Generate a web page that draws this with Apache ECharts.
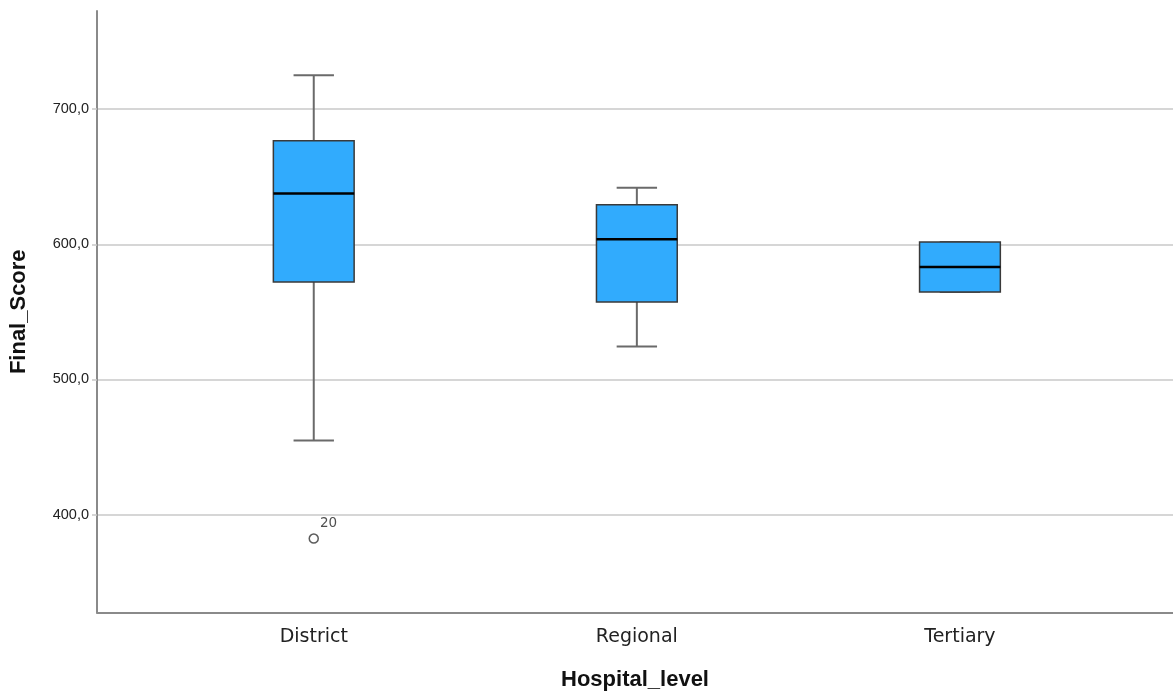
<!DOCTYPE html>
<html>
<head>
<meta charset="utf-8">
<script src="https://cdn.jsdelivr.net/npm/echarts@6/dist/echarts.min.js"></script>
<style>
  html, body { margin: 0; padding: 0; background: #ffffff; }
  #chart { width: 1173px; height: 693px; }
</style>
</head>
<body>
<div id="chart"></div>
<script>
const categories = ['District', 'Regional', 'Tertiary'];
const minValues = [454.9, 524.3, 564.7];
const q1Values = [572.1, 557.3, 564.7];
const medianValues = [637.6, 603.7, 583.2];
const q3Values = [676.6, 629.3, 601.7];
const maxValues = [725.1, 641.9, 601.7];
const outlierPoints = [[0, 382.3]];
const outlierLabels = ['20'];
const yMin = 327.6;
const yMax = 772.6;

const boxData = categories.map((c, i) => [i, minValues[i], q1Values[i], medianValues[i], q3Values[i], maxValues[i]]);

const chart = echarts.init(document.getElementById('chart'), null, { renderer: 'canvas' });

const option = {
  backgroundColor: '#ffffff',
  animation: false,
  grid: [
    { left: 97, right: 0, top: 11, bottom: 80.5, containLabel: false, outerBoundsMode: 'none' },
    { left: 152.2, right: 51.5, top: 11, bottom: 80.5, containLabel: false, outerBoundsMode: 'none' }
  ],
  xAxis: [
    {
      gridIndex: 0, type: 'value', min: 0, max: 1,
      axisLine: { show: true, lineStyle: { color: '#8a8a8a', width: 2 } },
      axisTick: { show: false }, axisLabel: { show: false }, splitLine: { show: false },
      name: 'Hospital_level', nameLocation: 'middle', nameGap: 56,
      nameTextStyle: { fontFamily: 'Liberation Sans', fontWeight: 'bold', fontSize: 22, color: '#111' }
    },
    {
      gridIndex: 1, type: 'category', data: categories,
      axisLine: { show: false }, axisTick: { show: false }, splitLine: { show: false },
      axisLabel: { fontFamily: 'DejaVu Sans', fontSize: 19, color: '#222', margin: 15 }
    }
  ],
  yAxis: [
    {
      gridIndex: 0, type: 'value', min: yMin, max: yMax, splitNumber: 5,
      axisLine: { show: true, lineStyle: { color: '#8a8a8a', width: 2 } },
      axisTick: { show: true, length: 5, lineStyle: { color: '#c8c8c8', width: 1.5 } },
      splitLine: { show: true, showMinLine: false, showMaxLine: false, lineStyle: { color: '#c8c8c8', width: 1.5 } },
      axisLabel: {
        showMinLabel: false, showMaxLabel: false, margin: 8,
        fontFamily: 'Liberation Sans', fontSize: 14.5, color: '#222',
        formatter: v => v.toFixed(1).replace('.', ',')
      },
      name: 'Final_Score', nameLocation: 'middle', nameGap: 67,
      nameTextStyle: { fontFamily: 'Liberation Sans', fontWeight: 'bold', fontSize: 22, color: '#111' }
    },
    {
      gridIndex: 1, type: 'value', min: yMin, max: yMax, show: false,
      splitLine: { show: false }
    }
  ],
  series: [
    {
      type: 'custom',
      xAxisIndex: 1, yAxisIndex: 1,
      data: boxData,
      encode: { x: 0, y: [1, 2, 3, 4, 5] },
      renderItem: function (params, api) {
        const x = api.value(0);
        const pMin = api.coord([x, api.value(1)]);
        const pQ1 = api.coord([x, api.value(2)]);
        const pMed = api.coord([x, api.value(3)]);
        const pQ3 = api.coord([x, api.value(4)]);
        const pMax = api.coord([x, api.value(5)]);
        const band = api.size([1, 0])[0];
        const bw = band * 0.25;
        const cw = band * 0.125;
        const cx = pMed[0];
        const whisker = { stroke: '#6a6a6a', lineWidth: 2 };
        return {
          type: 'group',
          children: [
            { type: 'line', shape: { x1: cx, y1: pQ3[1], x2: cx, y2: pMax[1] }, style: whisker },
            { type: 'line', shape: { x1: cx, y1: pQ1[1], x2: cx, y2: pMin[1] }, style: whisker },
            { type: 'line', shape: { x1: cx - cw / 2, y1: pMax[1], x2: cx + cw / 2, y2: pMax[1] }, style: whisker },
            { type: 'line', shape: { x1: cx - cw / 2, y1: pMin[1], x2: cx + cw / 2, y2: pMin[1] }, style: whisker },
            { type: 'rect', shape: { x: cx - bw / 2, y: pQ3[1], width: bw, height: pQ1[1] - pQ3[1] },
              style: { fill: '#31abfd', stroke: '#3a3a3a', lineWidth: 1.5 } },
            { type: 'line', shape: { x1: cx - bw / 2, y1: pMed[1], x2: cx + bw / 2, y2: pMed[1] },
              style: { stroke: '#000', lineWidth: 2.5 } }
          ]
        };
      }
    },
    {
      type: 'scatter',
      xAxisIndex: 1, yAxisIndex: 1,
      data: outlierPoints,
      symbol: 'circle', symbolSize: 9,
      itemStyle: { color: '#ffffff', borderColor: '#333', borderWidth: 1.5 },
      label: {
        show: true, position: 'right', distance: 1, offset: [0, -15],
        fontFamily: 'DejaVu Sans', fontSize: 13.5, color: '#222',
        formatter: p => outlierLabels[p.dataIndex]
      }
    }
  ]
};
chart.setOption(option);
</script>
</body>
</html>
